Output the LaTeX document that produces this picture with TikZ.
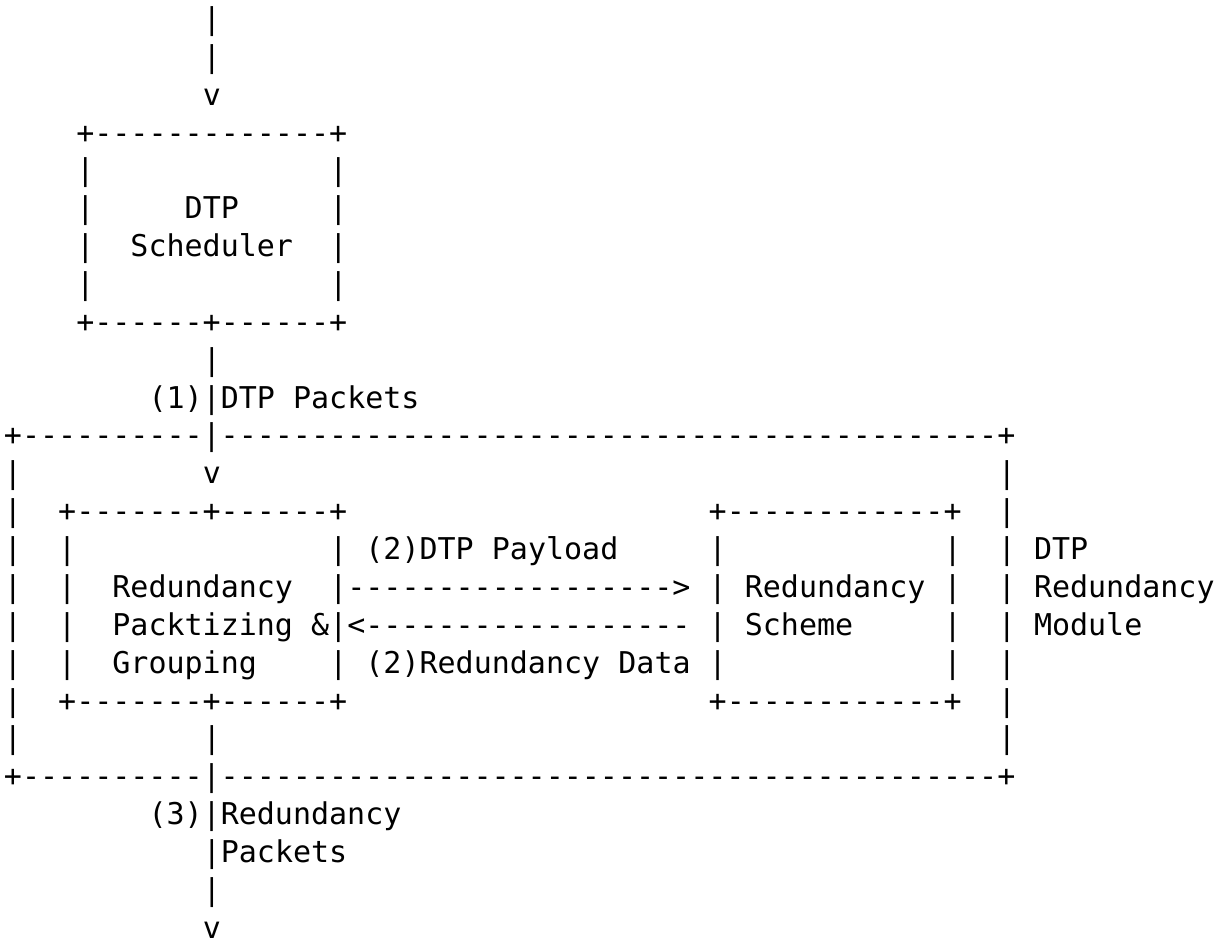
\documentclass[tikz,border=0pt]{standalone}
\usepackage{fontspec}
\setmonofont{DejaVu Sans Mono}
\ExplSyntaxOn
\cs_new:Npn \dsh #1 {\prg_replicate:nn{#1}{-}}
\ExplSyntaxOff
\tikzset{
  ascii/.style={anchor=base west, inner sep=0pt, outer sep=0pt,
    font=\ttfamily\fontsize{30}{37.9}\selectfont, text=black}
}
% place text #4 at grid column #2, row #3, node name #1
\newcommand\asc[4]{\node[ascii] (#1) at ({4+18.07*#2},{-29.4-37.87*#3}) {#4};}
\begin{document}
\begin{tikzpicture}[x=1pt,y=1pt]
\useasboundingbox (0,0) rectangle (1224,-939);
% input feed
\asc{in0}{11}{0}{|}
\asc{in1}{11}{1}{|}
\asc{inv}{11}{2}{v}
% DTP Scheduler box
\asc{schT}{4}{3}{+\dsh{13}+}
\foreach \r in {4,...,7}{\asc{schL\r}{4}{\r}{|}\asc{schR\r}{18}{\r}{|}}
\asc{schA}{10}{5}{DTP}
\asc{schB}{7}{6}{Scheduler}
\asc{schBot}{4}{8}{+\dsh{6}+\dsh{6}+}
% link (1)
\asc{l1a}{11}{9}{|}
\asc{l1b}{8}{10}{(1)|DTP}
\asc{l1c}{16}{10}{Packets}
% DTP Redundancy Module box
\asc{modT}{0}{11}{+\dsh{10}|\dsh{43}+}
\foreach \r in {12,...,19}{\asc{modL\r}{0}{\r}{|}\asc{modR\r}{55}{\r}{|}}
\asc{modv}{11}{12}{v}
\asc{modbar}{11}{19}{|}
\asc{modB}{0}{20}{+\dsh{10}|\dsh{43}+}
\asc{modA}{57}{14}{DTP}
\asc{modAb}{57}{15}{Redundancy}
\asc{modAc}{57}{16}{Module}
% Redundancy Packtizing & Grouping box
\asc{rpgT}{3}{13}{+\dsh{7}+\dsh{6}+}
\foreach \r in {14,...,17}{\asc{rpgL\r}{3}{\r}{|}}
\asc{rpgR14}{18}{14}{|}
\asc{rpgR17}{18}{17}{|}
\asc{rpgA}{6}{15}{Redundancy}
\asc{rpgB}{6}{16}{Packtizing}
\asc{rpgC}{6}{17}{Grouping}
\asc{rpgBot}{3}{18}{+\dsh{7}+\dsh{6}+}
% arrows (2)
\asc{arF}{18}{15}{|\dsh{18}>}
\asc{arB}{17}{16}{\&|<\dsh{18}}
\asc{lpA}{20}{14}{(2)DTP}
\asc{lpB}{27}{14}{Payload}
\asc{ldA}{20}{17}{(2)Redundancy}
\asc{ldB}{34}{17}{Data}
% Redundancy Scheme box
\asc{rsT}{39}{13}{+\dsh{12}+}
\foreach \r in {14,...,17}{\asc{rsL\r}{39}{\r}{|}\asc{rsR\r}{52}{\r}{|}}
\asc{rsA}{41}{15}{Redundancy}
\asc{rsB}{41}{16}{Scheme}
\asc{rsBot}{39}{18}{+\dsh{12}+}
% output (3)
\asc{o3a}{8}{21}{(3)|Redundancy}
\asc{o3b}{11}{22}{|Packets}
\asc{o3c}{11}{23}{|}
\asc{o3v}{11}{24}{v}
\end{tikzpicture}
\end{document}
